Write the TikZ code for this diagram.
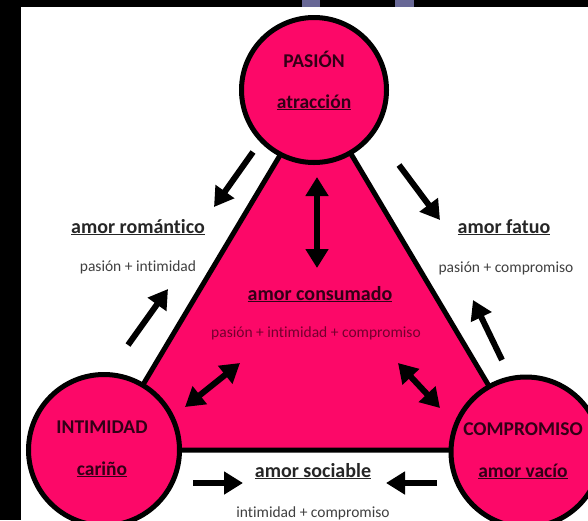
\documentclass[tikz,border=0pt]{standalone}
\usepackage{fontspec}
\setmainfont[Ligatures=NoCommon]{Carlito}
\usetikzlibrary{arrows.meta}
\definecolor{hotpink}{RGB}{252,8,104}
\definecolor{darkink}{RGB}{50,0,22}
\definecolor{innertext}{RGB}{115,0,45}
\definecolor{bandpurple}{RGB}{104,104,150}
\begin{document}
\begin{tikzpicture}[x=1pt,y=-1pt,
  bigarrow/.style={line width=6pt, -{Triangle[length=19pt,width=22pt]}},
  dblarrow/.style={line width=6pt, {Triangle[length=19pt,width=22pt]}-{Triangle[length=19pt,width=22pt]}},
  vertex/.style={circle, draw=black, line width=5pt, fill=hotpink, inner sep=0pt},
  title/.style={anchor=base, font=\bfseries\fontsize{19.5}{22}\selectfont, text=darkink},
  lbl/.style={anchor=base, font=\bfseries\fontsize{20}{22}\selectfont, text=black!85},
  sub/.style={anchor=base, font=\fontsize{15.5}{18}\selectfont, text=black!75},
]
\useasboundingbox (0,0) rectangle (588,520);
\clip (0,0) rectangle (588,520);
\fill[white] (0,0) rectangle (588,520);
\fill[black] (0,0) rectangle (21,520);
\fill[black] (0,0) rectangle (588,7);
\fill[bandpurple] (302,0) rectangle (320,7);
\fill[bandpurple] (395,0) rectangle (414,7);

% triangle
\coordinate (A) at (316,95);
\coordinate (B) at (104,450);
\coordinate (C) at (527,450);
\draw[line width=5pt, fill=hotpink] (A) -- (B) -- (C) -- cycle;

% circles
\node[vertex, minimum size=145pt] (pasion) at (314,90) {};
\node[vertex, minimum size=151pt] (intimidad) at (104,450) {};
\node[vertex, minimum size=150pt] (compromiso) at (526,452) {};

\node[title] (pt) at (314,67) {PASIÓN};
\node[title] (ps) at (314,108) {\underline{atracción}};
\node[title] (it) at (102,433) {INTIMIDAD};
\node[title] (is) at (102,475) {\underline{cariño}};
\node[title] (ct) at (523,435) {COMPROMISO};
\node[title] (cs) at (523,477) {\underline{amor vacío}};

% inner labels
\node[title, font=\bfseries\fontsize{20}{22}\selectfont] (cons) at (320,300) {\underline{amor consumado}};
\node[sub, text=innertext] (conss) at (316,337) {pasión + intimidad + compromiso};

% outer labels
\node[lbl] (rom) at (138,233) {\underline{amor romántico}};
\node[sub] (roms) at (138,271) {pasión + intimidad};
\node[lbl] (fat) at (504,233) {\underline{amor fatuo}};
\node[sub] (fats) at (506,272) {pasión + compromiso};
\node[lbl] (soc) at (313,477) {\underline{amor sociable}};
\node[sub] (socs) at (313,517) {intimidad + compromiso};

% arrows
\draw[bigarrow] (253,152) -- (214,207);
\draw[bigarrow] (399,165) -- (440,220);
\draw[bigarrow] (128,345) -- (168,289);
\draw[bigarrow] (502,360) -- (473,300);
\draw[dblarrow] (317,177) -- (317,268);
\draw[dblarrow] (185,407) -- (240,363);
\draw[dblarrow] (398,363) -- (440,408);
\draw[bigarrow] (193,483) -- (243,483);
\draw[bigarrow] (437,483) -- (386,483);
\end{tikzpicture}
\end{document}
